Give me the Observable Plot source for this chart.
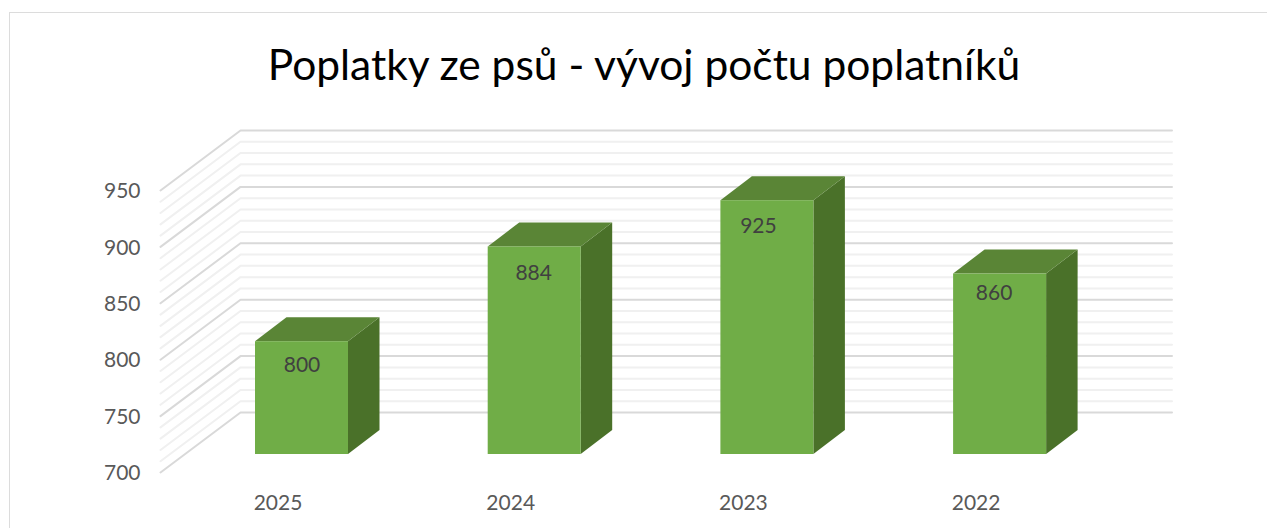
<!DOCTYPE html>
<html>
<head>
<meta charset="utf-8">
<script src="https://cdn.jsdelivr.net/npm/d3@7"></script>
<script src="https://cdn.jsdelivr.net/npm/@observablehq/plot@0.6"></script>
<style>
  html, body { margin: 0; padding: 0; background: #fff; overflow: hidden; }
  #wrap { position: relative; width: 1267px; height: 528px; }
  #frame { position: absolute; left: 9px; top: 12px; right: 0; bottom: 0;
           border-left: 1.5px solid #dcdcdc; border-top: 1.5px solid #dcdcdc; }
  #title { position: absolute; left: 0; top: 0; width: 1288px; height: 100px;
           text-align: center; font: 400 42.5px/128px Lato, sans-serif; color: #000; white-space: nowrap; }
  #plot { position: absolute; left: 0; top: 100px; }
  svg { display: block; }
</style>
</head>
<body>
<div id="wrap">
  <div id="frame"></div>
  <div id="title">Poplatky ze psů - vývoj počtu poplatníků</div>
  <div id="plot"></div>
</div>
<script>
const years = ["2025", "2024", "2023", "2022"];
const payers = [800, 884, 925, 860];
const valueTicks = [700, 750, 800, 850, 900, 950];
const minorTicks = [710, 720, 730, 740, 760, 770, 780, 790, 810, 820, 830, 840,
                    860, 870, 880, 890, 910, 920, 930, 940];

// Fake-3D projection constants, in scale units
const pxPerCat = 232.7, pxPerVal = 1.128;
const wallDX = 80 / pxPerCat, wallDY = 60 / pxPerVal;   // depth of the side wall
const barDX = 31.5 / pxPerCat, barDY = 24 / pxPerVal;   // depth of a bar
const halfW = 46.5 / pxPerCat;
const xMin = (160 - 301.5) / pxPerCat, xMax = (1171.5 - 301.5) / pxPerCat;
const barLift = -18;                                    // bars stand forward of the axis plane

const idx = years.map((_, i) => i);
const gridLine = t => [
  {t, x: xMin, y: t},
  {t, x: xMin + wallDX, y: t + wallDY},
  {t, x: xMax, y: t + wallDY}
];
const sideFace = idx.flatMap(i => [
  {i, x: i + halfW, y1: 700, y2: payers[i]},
  {i, x: i + halfW + barDX, y1: 700 + barDY, y2: payers[i] + barDY}
]);
const topFace = idx.flatMap(i => [
  {i, y: payers[i], x1: i - halfW, x2: i + halfW},
  {i, y: payers[i] + barDY, x1: i - halfW + barDX, x2: i + halfW + barDX}
]);

const chart = Plot.plot({
  width: 1267, height: 428,
  marginTop: 90, marginBottom: 56, marginLeft: 160, marginRight: 95.5,
  style: {fontFamily: "Lato, sans-serif", background: "transparent", overflow: "visible"},
  x: {domain: [xMin, xMax], axis: null},
  y: {domain: [700, 950], axis: null},
  marks: [
    Plot.line(minorTicks.flatMap(gridLine), {x: "x", y: "y", z: "t", stroke: "#f0f0f0", strokeWidth: 2}),
    Plot.line(valueTicks.flatMap(gridLine), {x: "x", y: "y", z: "t", stroke: "#d9d9d9", strokeWidth: 2}),
    Plot.axisY({ticks: valueTicks, tickSize: 0, tickPadding: 20, fontSize: 21, dy: 1, fill: "#595959", label: null}),
    Plot.axisX({ticks: idx, tickFormat: d => years[d], tickSize: 0, tickPadding: 23, dx: -24, fontSize: 21, fill: "#595959", label: null}),
    Plot.areaY(sideFace, {x: "x", y1: "y1", y2: "y2", z: "i", fill: "#4a7129", dy: barLift}),
    Plot.areaX(topFace, {y: "y", x1: "x1", x2: "x2", z: "i", fill: "#5a8536", dy: barLift}),
    Plot.rect(idx, {x1: i => i - halfW, x2: i => i + halfW, y1: 700, y2: i => payers[i], fill: "#70ad47", dy: barLift}),
    // The value labels sit slightly differently on each bar in the original
    idx.map(i => Plot.text([i], {
      x: d => d, y: d => payers[d], text: d => String(payers[d]),
      fontSize: 21, fill: "#404040",
      dx: [0, -1, -9, -6][i],
      dy: barLift + [24, 26, 26, 19][i]
    }))
  ]
});
document.getElementById("plot").appendChild(chart);
</script>
</body>
</html>
